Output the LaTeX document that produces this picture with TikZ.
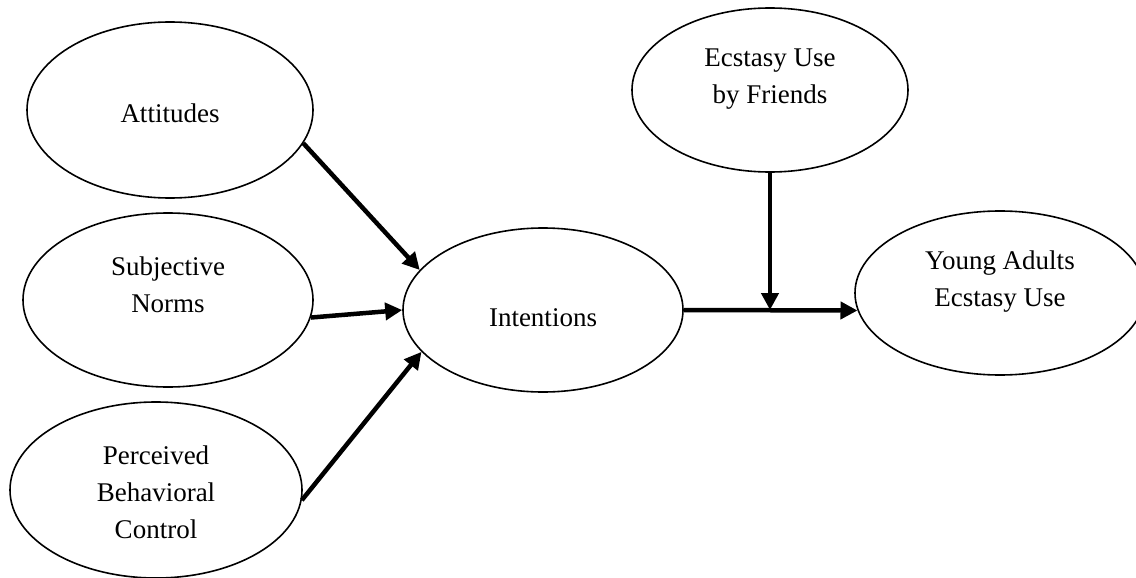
\documentclass[tikz,border=0pt]{standalone}
\usepackage{fontspec}
\setmainfont{Liberation Serif}
\usetikzlibrary{calc,shapes.geometric,arrows.meta}
\tikzstyle{bulle} = [ellipse, draw=black, line width=1.6pt, inner sep=0pt]
\tikzstyle{texte} = [align=center, font=\fontsize{27}{37}\selectfont]
\tikzstyle{fleche} = [line width=4.5pt, -{Triangle[length=17pt,width=17pt]}]

\begin{document}
\begin{tikzpicture}[x=1pt,y=-1pt]
                \useasboundingbox (0,0) rectangle (1136,578);

                \node (attitudes) [bulle, minimum width=286pt, minimum height=176pt] at (170,110) {};
                \node (subjNorms) [bulle, minimum width=290pt, minimum height=174pt] at (168,300) {};
                \node (perceivedControl) [bulle, minimum width=292pt, minimum height=176pt] at (156,490) {};
                \node (intentions) [bulle, minimum width=280pt, minimum height=164pt] at (543,310) {};
                \node (friendsUse) [bulle, minimum width=276pt, minimum height=164pt] at (770,90) {};
                \node (youngUse) [bulle, minimum width=290pt, minimum height=164pt] at (1000,293) {};

                \node (attitudesText) [texte] at ($(attitudes)+(0,3)$) {Attitudes};
                \node (subjNormsText) [texte] at ($(subjNorms)+(0,-15)$) {Subjective\\Norms};
                \node (perceivedControlText) [texte] at ($(perceivedControl)+(0,2)$) {Perceived\\Behavioral\\Control};
                \node (intentionsText) [texte] at ($(intentions)+(0,8)$) {Intentions};
                \node (friendsUseText) [texte] at ($(friendsUse)+(0,-11)$) {Ecstasy Use\\by Friends};
                \node (youngUseText) [texte] at ($(youngUse)+(0,-11)$) {Young Adults\\Ecstasy Use};

                \coordinate (junc) at (friendsUse.south |- intentions.east);

                \draw[fleche] (attitudes.-14) -- (intentions.162);
                \draw[fleche] (subjNorms.-7) -- (intentions.180);
                \draw[fleche] (perceivedControl.-4) -- (intentions.199);
                \draw[fleche] (intentions.east) -- (youngUse.187);
                \draw[fleche] (friendsUse.south) -- (junc);
            \end{tikzpicture}
\end{document}
